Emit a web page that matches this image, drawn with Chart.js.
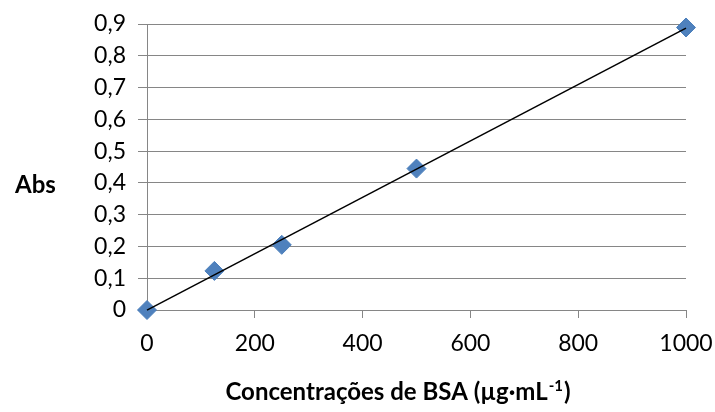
<!DOCTYPE html>
<html>
<head>
<meta charset="utf-8">
<script src="https://cdn.jsdelivr.net/npm/chart.js@4.4.0/dist/chart.umd.min.js"></script>
<style>
  html, body { margin: 0; padding: 0; background: #fff; }
  #wrap { width: 715px; height: 412px; }
</style>
</head>
<body>
<div id="wrap"><canvas id="chart" width="715" height="412"></canvas></div>
<script>
// BSA calibration data
const concentrations = [0, 125, 250, 500, 1000];
const absorbances = [0, 0.123, 0.205, 0.445, 0.889];
const xTicks = [0, 200, 400, 600, 800, 1000];
const yTicks = [0, 0.1, 0.2, 0.3, 0.4, 0.5, 0.6, 0.7, 0.8, 0.9];

const FONT = "Lato, 'Open Sans', sans-serif";

// least squares trend line
const n = concentrations.length;
const mx = concentrations.reduce((a, b) => a + b, 0) / n;
const my = absorbances.reduce((a, b) => a + b, 0) / n;
let sxy = 0, sxx = 0;
concentrations.forEach((x, i) => {
  sxy += (x - mx) * (absorbances[i] - my);
  sxx += (x - mx) * (x - mx);
});
const slope = sxy / sxx;
const intercept = my - slope * mx;
const xMin = concentrations[0], xMax = concentrations[n - 1];
const trend = [
  { x: xMin, y: intercept + slope * xMin },
  { x: xMax, y: intercept + slope * xMax }
];

// Titles drawn by hand ("Abs" horizontal, superscript on the x title)
const titles = {
  id: 'titles',
  afterDraw(chart) {
    const ctx = chart.ctx;
    ctx.save();
    ctx.fillStyle = '#000';
    ctx.font = "bold 24px " + FONT;
    ctx.textBaseline = 'middle';
    ctx.textAlign = 'left';
    ctx.fillText('Abs', 15, 185);

    const main = 'Concentrações de BSA (µg·mL';
    const sup = '-1';
    const tail = ')';
    ctx.font = "bold 24px " + FONT;
    const w1 = ctx.measureText(main).width;
    const w3 = ctx.measureText(tail).width;
    ctx.font = "bold 15px " + FONT;
    const w2 = ctx.measureText(sup).width;
    const total = w1 + w2 + w3;
    let x = 397 - total / 2;
    const y = 400;
    ctx.textBaseline = 'alphabetic';
    ctx.font = "bold 24px " + FONT;
    ctx.fillText(main, x, y);
    x += w1;
    ctx.font = "bold 15px " + FONT;
    ctx.fillText(sup, x + 1, y - 9);
    x += w2 + 2;
    ctx.font = "bold 24px " + FONT;
    ctx.fillText(tail, x, y);
    ctx.restore();
  }
};

new Chart(document.getElementById('chart'), {
  type: 'scatter',
  data: {
    datasets: [
      {
        label: 'trend',
        type: 'line',
        data: trend,
        borderColor: '#000',
        borderWidth: 1.5,
        pointRadius: 0,
        fill: false,
        clip: false,
        order: 0
      },
      {
        label: 'Abs',
        data: concentrations.map((x, i) => ({ x: x, y: absorbances[i] })),
        pointStyle: 'rectRot',
        pointRadius: 9.5,
        pointHoverRadius: 9.5,
        backgroundColor: '#4F81BD',
        borderColor: '#4A7EBB',
        borderWidth: 1,
        clip: false,
        order: 1
      }
    ]
  },
  options: {
    responsive: false,
    animation: false,
    layout: { padding: { left: 0, right: 29, top: 24, bottom: 0 } },
    plugins: {
      legend: { display: false },
      tooltip: { enabled: false }
    },
    scales: {
      x: {
        type: 'linear',
        min: 0,
        max: 1000,
        afterBuildTicks: axis => { axis.ticks = xTicks.map(v => ({ value: v })); },
        afterFit: axis => {
          axis.height = 102;
          axis.paddingLeft = 0;
          axis.paddingRight = 0;
        },
        grid: { drawOnChartArea: false, color: '#868686', tickLength: 8 },
        border: { color: '#868686', width: 1 },
        ticks: {
          color: '#000',
          padding: 12,
          maxRotation: 0,
          font: { family: FONT, size: 23 },
          callback: v => String(v)
        }
      },
      y: {
        min: 0,
        max: 0.9,
        afterBuildTicks: axis => { axis.ticks = yTicks.map(v => ({ value: v })); },
        afterFit: axis => {
          axis.width = 147;
          axis.paddingTop = 0;
          axis.paddingBottom = 0;
        },
        grid: { color: '#868686', tickLength: 9 },
        border: { color: '#868686', width: 1 },
        ticks: {
          color: '#000',
          padding: 12,
          font: { family: FONT, size: 23 },
          callback: v => String(Math.round(v * 10) / 10).replace('.', ',')
        }
      }
    }
  },
  plugins: [titles]
});
</script>
</body>
</html>
